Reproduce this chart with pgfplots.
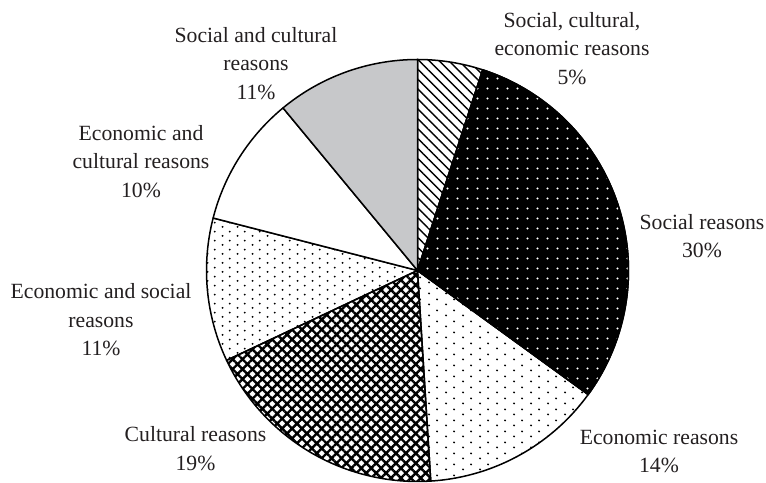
\documentclass[border=0pt]{standalone}
\usepackage{pgfplots}
\pgfplotsset{compat=1.18}
\usepackage{fontspec}
\setmainfont{Liberation Serif}
\usetikzlibrary{patterns,patterns.meta}

% staggered dot patterns
\pgfdeclarepatternformonly{stagdotsA}{\pgfpointorigin}{\pgfqpoint{17bp}{11bp}}{\pgfqpoint{17bp}{11bp}}{%
  \pgfpathcircle{\pgfqpoint{4.25bp}{2.75bp}}{1.1bp}%
  \pgfpathcircle{\pgfqpoint{12.75bp}{8.25bp}}{1.1bp}%
  \pgfusepath{fill}}
\pgfdeclarepatternformonly{stagdotsB}{\pgfpointorigin}{\pgfqpoint{14.6bp}{9.2bp}}{\pgfqpoint{14.6bp}{9.2bp}}{%
  \pgfpathcircle{\pgfqpoint{3.65bp}{2.3bp}}{1.1bp}%
  \pgfpathcircle{\pgfqpoint{10.95bp}{6.9bp}}{1.1bp}%
  \pgfusepath{fill}}

\definecolor{txt}{RGB}{35,31,32}
\definecolor{lgray}{RGB}{199,200,202}

% shares in percent, clockwise from 12 o'clock
\def\pA{5}   % Social, cultural, economic reasons
\def\pB{30}  % Social reasons
\def\pC{14}  % Economic reasons
\def\pD{19}  % Cultural reasons
\def\pE{11}  % Economic and social reasons
\def\pF{10}  % Economic and cultural reasons
\def\pG{11}  % Social and cultural reasons
\pgfmathsetmacro\aA{90}
\pgfmathsetmacro\aB{\aA-3.6*\pA}
\pgfmathsetmacro\aC{\aB-3.6*\pB}
\pgfmathsetmacro\aD{\aC-3.6*\pC}
\pgfmathsetmacro\aE{\aD-3.6*\pD}
\pgfmathsetmacro\aF{\aE-3.6*\pE}
\pgfmathsetmacro\aG{\aF-3.6*\pF}
\pgfmathsetmacro\aH{\aG-3.6*\pG}

\def\cx{417.5}
\def\cy{212.5}
\def\rr{211}

\begin{document}
\begin{tikzpicture}
\begin{axis}[
  x=1bp, y=1bp, xmin=0, xmax=766, ymin=0, ymax=483,
  hide axis, clip=false,
  every axis plot/.append style={draw=black, line width=1.5bp, line join=round},
]
\addplot[draw=none, fill=none] coordinates {(0,0) (766,483)};
% 1
\addplot[pattern={Lines[angle=-45, distance=7bp, line width=1.4bp]}, pattern color=black,
  domain=\aB:\aA, samples=40, variable=\t]
  ({\cx+\rr*cos(t)}, {\cy+\rr*sin(t)}) -- (axis cs:\cx,\cy) -- cycle;
% 2
\addplot[fill=black, postaction={pattern={Dots[radius=1.1bp, distance=9.5bp]}, pattern color=white},
  domain=\aC:\aB, samples=80, variable=\t]
  ({\cx+\rr*cos(t)}, {\cy+\rr*sin(t)}) -- (axis cs:\cx,\cy) -- cycle;
% 3
\addplot[pattern=stagdotsA, pattern color=black,
  domain=\aD:\aC, samples=60, variable=\t]
  ({\cx+\rr*cos(t)}, {\cy+\rr*sin(t)}) -- (axis cs:\cx,\cy) -- cycle;
% 4
\addplot[pattern={Hatch[angle=45, distance=7bp, line width=2.4bp]}, pattern color=black,
  domain=\aE:\aD, samples=60, variable=\t]
  ({\cx+\rr*cos(t)}, {\cy+\rr*sin(t)}) -- (axis cs:\cx,\cy) -- cycle;
% 5
\addplot[pattern=stagdotsB, pattern color=black,
  domain=\aF:\aE, samples=40, variable=\t]
  ({\cx+\rr*cos(t)}, {\cy+\rr*sin(t)}) -- (axis cs:\cx,\cy) -- cycle;
% 6
\addplot[fill=white,
  domain=\aG:\aF, samples=40, variable=\t]
  ({\cx+\rr*cos(t)}, {\cy+\rr*sin(t)}) -- (axis cs:\cx,\cy) -- cycle;
% 7
\addplot[fill=lgray,
  domain=\aH:\aG, samples=40, variable=\t]
  ({\cx+\rr*cos(t)}, {\cy+\rr*sin(t)}) -- (axis cs:\cx,\cy) -- cycle;

\tikzset{lab/.style={align=center, text=txt, inner sep=0pt,
  font=\fontsize{21.7bp}{28.5bp}\selectfont}}
\node[lab] at (axis cs:572,434.5) {Social, cultural,\\economic reasons\\5\%};
\node[lab] at (axis cs:702,247) {Social reasons\\30\%};
\node[lab] at (axis cs:659,31.5) {Economic reasons\\14\%};
\node[lab] at (axis cs:195.5,34.5) {Cultural reasons\\19\%};
\node[lab] at (axis cs:101,163) {Economic and social\\reasons\\11\%};
\node[lab] at (axis cs:141,321.5) {Economic and\\cultural reasons\\10\%};
\node[lab] at (axis cs:256,419.5) {Social and cultural\\reasons\\11\%};
\end{axis}
\end{tikzpicture}
\end{document}
